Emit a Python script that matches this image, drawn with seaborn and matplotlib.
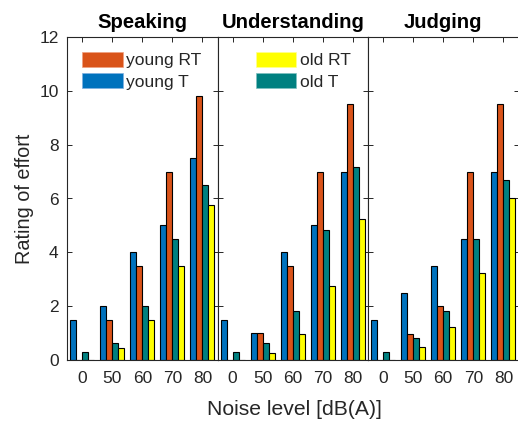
import numpy as np
import pandas as pd
import matplotlib
matplotlib.use("Agg")
import matplotlib.pyplot as plt
from matplotlib.patches import Patch
import seaborn as sns

# ---- data ----
panels = ["Speaking", "Understanding", "Judging"]
noise_levels = ["0", "50", "60", "70", "80"]
groups = ["young T", "young RT", "old T", "old RT"]

speaking_young_T  = [1.5, 2.0, 4.0, 5.0, 7.5]
speaking_young_RT = [0.0, 1.5, 3.5, 7.0, 9.8]
speaking_old_T    = [0.3, 0.65, 2.0, 4.5, 6.5]
speaking_old_RT   = [0.0, 0.45, 1.5, 3.5, 5.75]

understanding_young_T  = [1.5, 1.0, 4.0, 5.0, 7.0]
understanding_young_RT = [0.0, 1.0, 3.5, 7.0, 9.5]
understanding_old_T    = [0.3, 0.65, 1.82, 4.82, 7.18]
understanding_old_RT   = [0.0, 0.25, 0.97, 2.75, 5.24]

judging_young_T  = [1.5, 2.5, 3.5, 4.5, 7.0]
judging_young_RT = [0.0, 0.97, 2.0, 7.0, 9.5]
judging_old_T    = [0.3, 0.8, 1.82, 4.5, 6.67]
judging_old_RT   = [0.0, 0.47, 1.24, 3.22, 6.0]

series = {
    "Speaking": [speaking_young_T, speaking_young_RT, speaking_old_T, speaking_old_RT],
    "Understanding": [understanding_young_T, understanding_young_RT, understanding_old_T, understanding_old_RT],
    "Judging": [judging_young_T, judging_young_RT, judging_old_T, judging_old_RT],
}

rows = []
for p in panels:
    for g, vals in zip(groups, series[p]):
        for n, v in zip(noise_levels, vals):
            rows.append({"panel": p, "noise": n, "group": g, "rating": v})
df = pd.DataFrame(rows)

palette = {"young T": "#0072BD", "young RT": "#D95319",
           "old T": "#008080", "old RT": "#FFFF00"}

sns.set_style("white")
plt.rcParams["font.family"] = ["Liberation Sans", "DejaVu Sans"]
txt = "#262626"

fig = plt.figure(figsize=(5.18, 4.23), dpi=100)
W, H = 518, 423
left0, bottom_px, top_px = 67, 360, 37
pw = 150.5
axes = []
for i, p in enumerate(panels):
    l = left0 + i * pw
    ax = fig.add_axes([l / W, 1 - bottom_px / H, pw / W, (bottom_px - top_px) / H])
    axes.append(ax)
    sns.barplot(data=df[df.panel == p], x="noise", y="rating", hue="group",
                order=noise_levels, hue_order=groups, palette=palette,
                edgecolor="black", linewidth=0.8, width=0.8, saturation=1,
                legend=False, ax=ax, errorbar=None)
    ax.set_xlim(-0.5, 4.5)
    ax.set_ylim(0, 12)
    ax.set_yticks(np.arange(0, 13, 2))
    ax.set_title(p, fontsize=14.6, fontweight="bold", color="black", pad=6.5)
    ax.set_xlabel("")
    ax.set_ylabel("")
    ax.tick_params(axis="both", direction="in", length=3.5, width=0.7,
                   color=txt, labelcolor=txt, labelsize=12.5,
                   top=True, bottom=True, left=True, right=True)
    ax.tick_params(axis="x", pad=8)
    ax.tick_params(axis="y", pad=6)
    for s in ax.spines.values():
        s.set_color(txt)
        s.set_linewidth(0.8)
    if i > 0:
        ax.set_yticklabels([])

axes[0].set_ylabel("Rating of effort", fontsize=14.3, color=txt, labelpad=4)

leg_kw = dict(frameon=False, fontsize=12.5, handlelength=2.35, handleheight=0.95,
              handletextpad=0.2, labelspacing=0.3, borderpad=0, borderaxespad=0,
              loc="upper left")
h1 = [Patch(facecolor=palette["young RT"], edgecolor="#F0A080", linewidth=0.5),
      Patch(facecolor=palette["young T"], edgecolor="#80B0E0", linewidth=0.5)]
axes[0].legend(h1, ["young RT", "young T"], bbox_to_anchor=(0.099, 0.955), **leg_kw)
h2 = [Patch(facecolor=palette["old RT"], edgecolor="#FFFF90", linewidth=0.5),
      Patch(facecolor=palette["old T"], edgecolor="#80C0C0", linewidth=0.5)]
axes[1].legend(h2, ["old RT", "old T"], bbox_to_anchor=(0.253, 0.955), **leg_kw)

fig.text(294 / W, 1 - 409 / H, "Noise level [dB(A)]", ha="center", va="center",
         fontsize=15.2, color=txt)

fig.savefig("out.png", dpi=100)
